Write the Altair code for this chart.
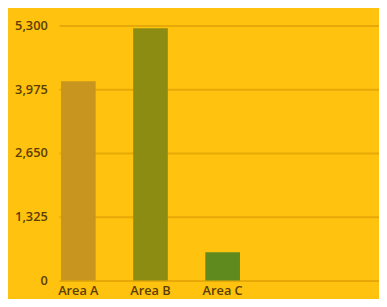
import altair as alt
import pandas as pd

categories = ["Area A", "Area B", "Area C"]
values = [4140, 5240, 590]
bar_colors = ["#C8961E", "#8C8C12", "#5F8B1E"]
y_ticks = [0, 1325, 2650, 3975, 5300]

df = pd.DataFrame({"area": categories, "value": values})

chart = alt.Chart(df).mark_bar().encode(
    x=alt.X("area:N", sort=categories, title=None,
            scale=alt.Scale(paddingInner=0.52, paddingOuter=0.977, align=0.014),
            axis=alt.Axis(labelAngle=0, domain=False, ticks=False, labelPadding=4,
                          labelColor="#5C3D00", labelFont="Open Sans", labelFontSize=13,
                          labelFontWeight=600)),
    y=alt.Y("value:Q", title=None,
            scale=alt.Scale(domain=[0, 5300], nice=False),
            axis=alt.Axis(values=y_ticks, format=",d", domain=False, ticks=False,
                          labelPadding=12, gridColor="#E6A908", gridWidth=2,
                          labelColor="#5C3D00", labelFont="Open Sans", labelFontSize=13,
                          labelFontWeight=600)),
    color=alt.Color("area:N", scale=alt.Scale(domain=categories, range=bar_colors), legend=None),
).properties(
    width=326, height=260,
    background="#FFC20E",
    padding={"left": 52, "top": 15, "right": 0, "bottom": 16},
    autosize=alt.AutoSizeParams(type="none"),
).configure_view(stroke=None)

chart.save("out.html", embed_options={"renderer": "svg", "actions": False})
